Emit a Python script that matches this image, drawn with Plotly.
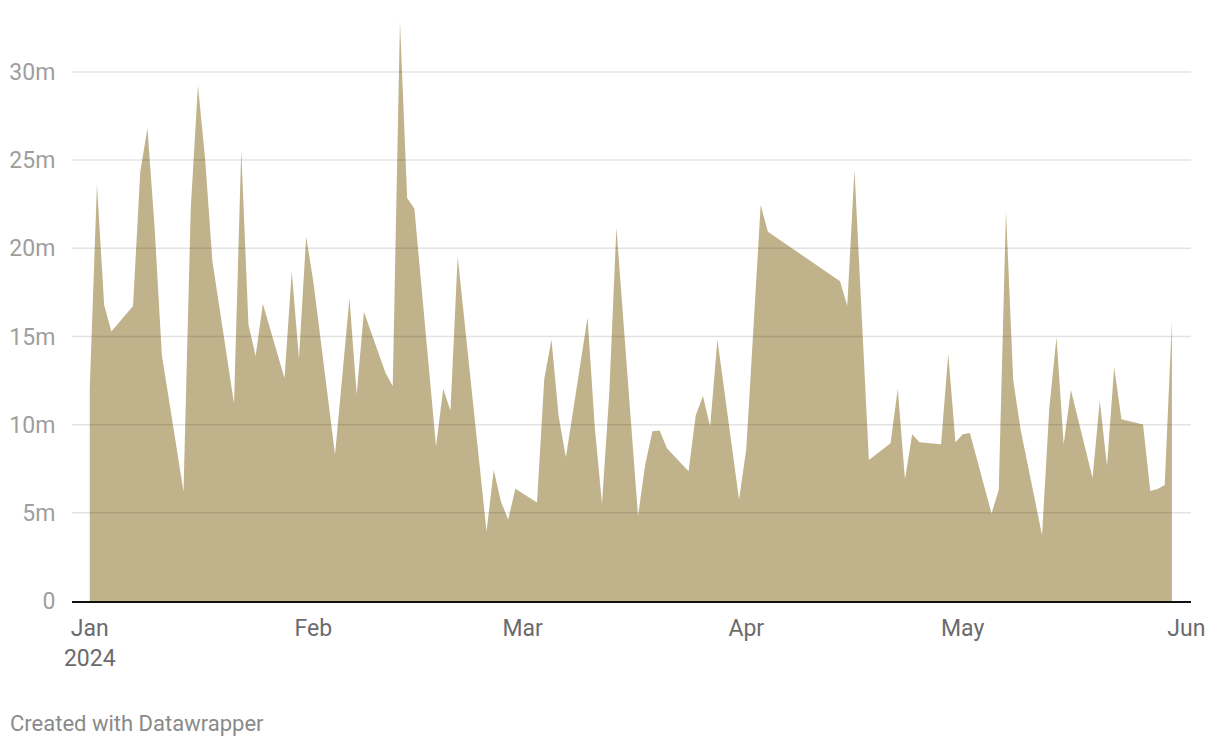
import plotly.graph_objects as go

# ---- data (values in millions) ----
dates = [
    "2024-01-01", "2024-01-02", "2024-01-03", "2024-01-04", "2024-01-07", "2024-01-08",
    "2024-01-09", "2024-01-10", "2024-01-11", "2024-01-14", "2024-01-15", "2024-01-16",
    "2024-01-17", "2024-01-18", "2024-01-21", "2024-01-22", "2024-01-23", "2024-01-24",
    "2024-01-25", "2024-01-28", "2024-01-29", "2024-01-30", "2024-01-31", "2024-02-01",
    "2024-02-04", "2024-02-06", "2024-02-07", "2024-02-08", "2024-02-11", "2024-02-12",
    "2024-02-13", "2024-02-14", "2024-02-15", "2024-02-18", "2024-02-19", "2024-02-20",
    "2024-02-21", "2024-02-25", "2024-02-26", "2024-02-27", "2024-02-28", "2024-02-29",
    "2024-03-03", "2024-03-04", "2024-03-05", "2024-03-06", "2024-03-07", "2024-03-10",
    "2024-03-11", "2024-03-12", "2024-03-13", "2024-03-14", "2024-03-17", "2024-03-18",
    "2024-03-19", "2024-03-20", "2024-03-21", "2024-03-24", "2024-03-25", "2024-03-26",
    "2024-03-27", "2024-03-28", "2024-03-31", "2024-04-01", "2024-04-03", "2024-04-04",
    "2024-04-14", "2024-04-15", "2024-04-16", "2024-04-18", "2024-04-21", "2024-04-22",
    "2024-04-23", "2024-04-24", "2024-04-25", "2024-04-28", "2024-04-29", "2024-04-30",
    "2024-05-01", "2024-05-02", "2024-05-05", "2024-05-06", "2024-05-07", "2024-05-08",
    "2024-05-09", "2024-05-12", "2024-05-13", "2024-05-14", "2024-05-15", "2024-05-16",
    "2024-05-19", "2024-05-20", "2024-05-21", "2024-05-22", "2024-05-23", "2024-05-26",
    "2024-05-27", "2024-05-28", "2024-05-29", "2024-05-30",
]
values = [
    12.03, 23.63, 16.79, 15.28, 16.72, 24.33,
    26.82, 21.12, 13.94, 6.19, 22.24, 29.24,
    25.04, 19.28, 11.20, 25.56, 15.66, 13.89,
    16.85, 12.63, 18.69, 13.76, 20.67, 18.09,
    8.30, 17.17, 11.72, 16.40, 12.93, 12.19,
    32.86, 22.85, 22.24, 8.77, 12.03, 10.79,
    19.54, 3.94, 7.43, 5.63, 4.62, 6.37,
    5.59, 12.59, 14.83, 10.46, 8.15, 16.07,
    9.90, 5.52, 11.69, 21.18, 4.82, 7.76,
    9.63, 9.67, 8.66, 7.36, 10.53, 11.62,
    9.90, 14.83, 5.75, 8.60, 22.45, 20.94,
    18.13, 16.74, 24.47, 7.99, 8.95, 12.03,
    6.91, 9.45, 9.00, 8.89, 14.00, 9.00,
    9.45, 9.52, 4.96, 6.31, 22.13, 12.55,
    9.78, 3.73, 10.91, 14.95, 8.89, 11.96,
    6.98, 11.36, 7.65, 13.26, 10.30, 10.01,
    6.24, 6.35, 6.58, 15.89,
]

x_tickvals = ["2024-01-01", "2024-02-01", "2024-03-01", "2024-04-01", "2024-05-01", "2024-06-01"]
x_ticktext = ["Jan<br>2024", "Feb", "Mar", "Apr", "May", "Jun"]
y_tickvals = [0, 5, 10, 15, 20, 25, 30]
y_ticktext = ["0", "5m", "10m", "15m", "20m", "25m", "30m"]

AREA = "#c0b38c"
FONT = "Roboto"

fig = go.Figure()
fig.add_trace(go.Scatter(
    x=dates, y=values, mode="lines", fill="tozeroy",
    line=dict(width=0, color=AREA), fillcolor=AREA,
    hoverinfo="x+y", showlegend=False,
))

# gridlines drawn above the area (as in the reference)
for v in y_tickvals[1:]:
    fig.add_shape(type="line", xref="paper", x0=0, x1=1, yref="y", y0=v, y1=v,
                  line=dict(color="rgba(0,0,0,0.11)", width=1.5), layer="above")

fig.update_layout(
    width=1220, height=748,
    margin=dict(l=64, r=37, t=11, b=155),
    paper_bgcolor="white", plot_bgcolor="white",
    font=dict(family=FONT),
    xaxis=dict(
        type="date", automargin=False,
        range=["2023-12-29 13:00", "2024-06-01 15:30"],
        tickvals=x_tickvals, ticktext=x_ticktext,
        ticks="outside", ticklen=5, tickcolor="rgba(0,0,0,0)",
        tickfont=dict(size=23, color="#6b6b6b", family=FONT),
        showgrid=False, zeroline=False,
        showline=True, linecolor="#111", linewidth=2,
        fixedrange=True,
    ),
    yaxis=dict(
        automargin=False,
        range=[0, 33],
        tickvals=y_tickvals, ticktext=y_ticktext,
        ticks="outside", ticklen=11, tickcolor="rgba(0,0,0,0)",
        tickfont=dict(size=23, color="#9e9e9e", family=FONT),
        showgrid=False, zeroline=False, showline=False,
        fixedrange=True,
    ),
    annotations=[dict(
        text="Created with Datawrapper", xref="paper", yref="paper",
        x=-0.057, y=-0.211, xanchor="left", yanchor="middle",
        showarrow=False, font=dict(size=22, color="#8a8a8a", family=FONT),
    )],
)

fig.write_html("out.html")
